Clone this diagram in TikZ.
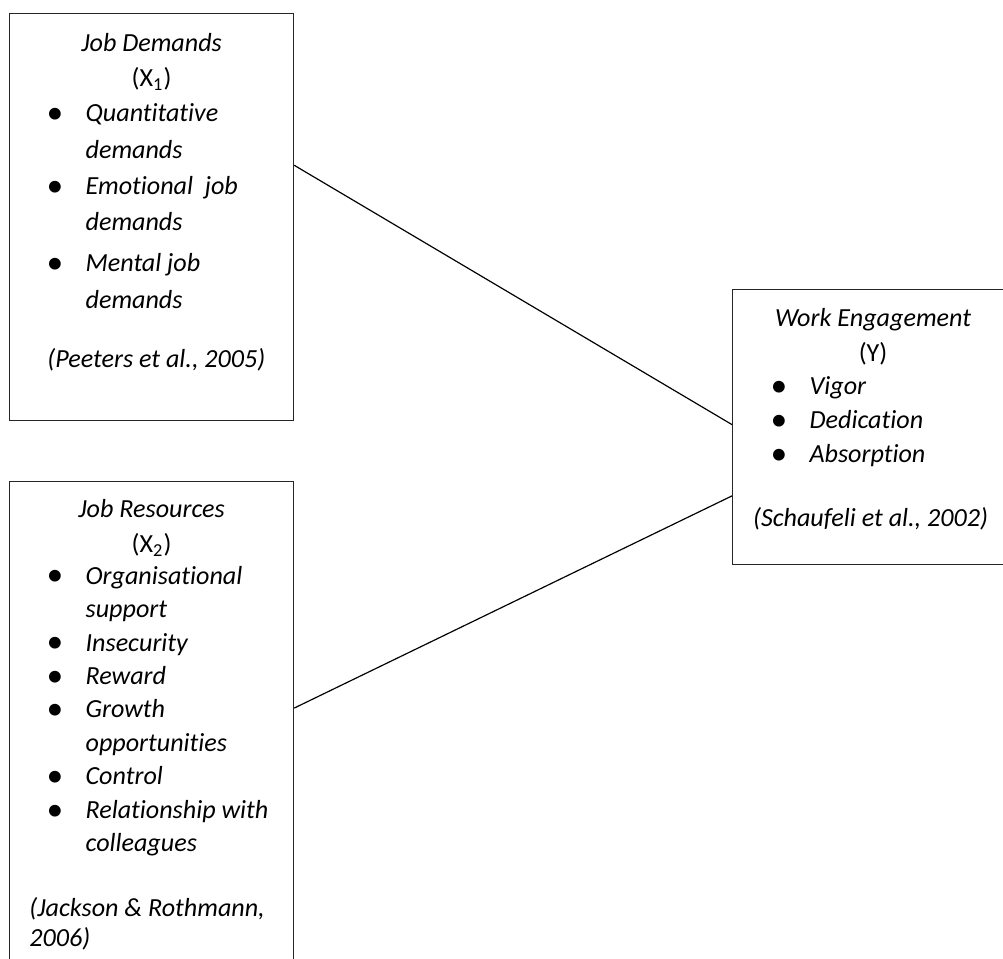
\documentclass[tikz,border=0pt]{standalone}
\usepackage{fontspec}
\setmainfont{Carlito}[Ligatures=NoCommon]
\usetikzlibrary{positioning, calc}
\newcommand{\bitem}{\makebox[16.5pt][l]{\raisebox{-0.8pt}{\fontsize{14pt}{14pt}\selectfont\textbullet}}}
\newcommand{\bcont}{\hspace*{16.5pt}}
\tikzset{
  varbox/.style={rectangle, draw=black!85, line width=0.5pt, inner sep=0pt, anchor=north west},
  vartitle/.style={align=center, inner sep=0pt, anchor=north, font=\fontsize{11pt}{14.9pt}\selectfont},
  itemlist/.style={align=left, inner sep=0pt, anchor=north west, font=\fontsize{11pt}{#1}\selectfont\itshape},
  source/.style={align=left, inner sep=0pt, font=\fontsize{11pt}{12.6pt}\selectfont\itshape},
  link/.style={draw=black, line width=0.5pt},
}

\begin{document}
\begin{tikzpicture}[x=0.4215pt, y=-0.4215pt]
  \useasboundingbox (0,0) rectangle (1003,959);
  \clip (0,0) rectangle (1003,959);

  \node[varbox, minimum width=119.7pt, minimum height=171.6pt] (demands) at (9,13) {};
  \node[varbox, minimum width=119.7pt, minimum height=205.7pt] (resources) at (9,481) {};
  \node[varbox, minimum width=118.4pt, minimum height=115.9pt] (engage) at (732,289) {};

  \node[vartitle] (demandsT) at ([shift={(0,19.5)}]demands.north) {\textit{Job Demands}\\(X\textsubscript{1})};
  \node[itemlist=15.3pt] (demandsL) at ([shift={(37,90.5)}]demands.north west)
    {\bitem Quantitative\\ \bcont demands\\ \bitem Emotional\ \ job\\ \bcont demands\\[2pt] \bitem Mental job\\ \bcont demands};
  \node[source, anchor=north west] (demandsS) at ([shift={(38,334.5)}]demands.north west) {(Peeters et al., 2005)};

  \node[vartitle] (resourcesT) at ([shift={(0,17.5)}]resources.north) {\textit{Job Resources}\\(X\textsubscript{2})};
  \node[itemlist=14.1pt] (resourcesL) at ([shift={(37,84.5)}]resources.north west)
    {\bitem Organisational\\ \bcont support\\ \bitem Insecurity\\ \bitem Reward\\ \bitem Growth\\ \bcont opportunities\\ \bitem Control\\ \bitem Relationship with\\ \bcont colleagues};
  \node[source, anchor=north west] (resourcesS) at ([shift={(20,416)}]resources.north west) {(Jackson \& Rothmann,\\2006)};

  \node[vartitle] (engageT) at ([shift={(0,18.5)}]engage.north) {\textit{Work Engagement}\\(Y)};
  \node[itemlist=14.3pt] (engageL) at ([shift={(38,87)}]engage.north west)
    {\bitem Vigor\\ \bitem Dedication\\ \bitem Absorption};
  \node[source, anchor=north] (engageS) at ([shift={(-2.5,218)}]engage.north) {(Schaufeli et al., 2002)};

  \draw[link] (demands.20) -- (engage.179);
  \draw[link] (resources.7) -- (engage.206);
\end{tikzpicture}
\end{document}
